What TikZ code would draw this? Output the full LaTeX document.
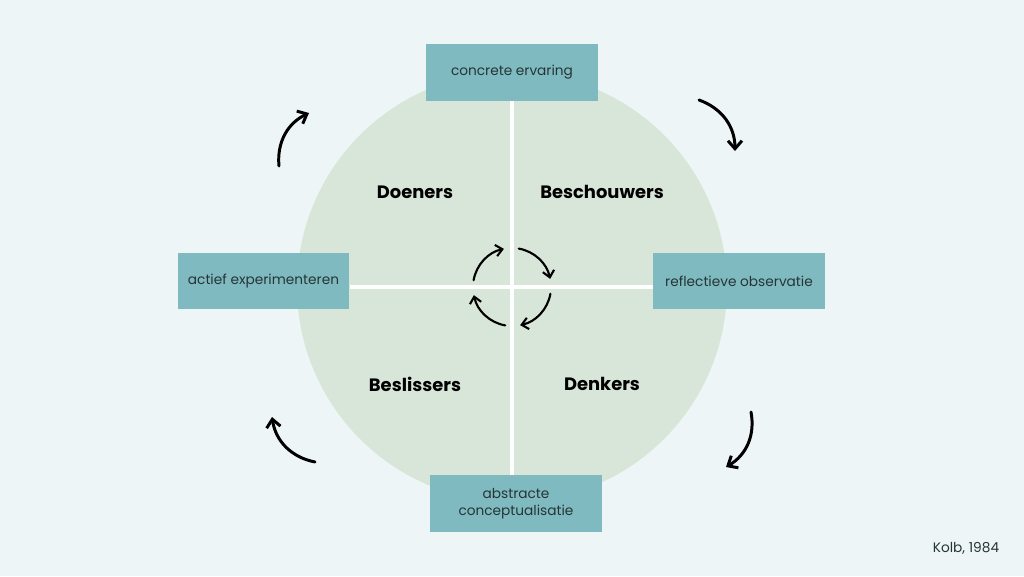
\documentclass[tikz,border=0pt]{standalone}
\usepackage{fontspec}
\setmainfont{Poppins}
\usetikzlibrary{arrows.meta}
\definecolor{bgblue}{HTML}{EEF5F7}
\definecolor{circgreen}{HTML}{D8E6D9}
\definecolor{boxteal}{HTML}{80BAC1}
\definecolor{boxtext}{HTML}{253535}

\begin{document}
\begin{tikzpicture}[x=0.02cm,y=0.02cm,line cap=round]

			\tikzstyle{every node}=[font=\fontsize{7.8}{9.4}\selectfont]

			\tikzstyle{stage}=[rectangle,fill=boxteal,text=boxtext,minimum width=3.44cm,minimum height=1.14cm,align=center,inner sep=1pt]
			\tikzstyle{type}=[font=\bfseries\fontsize{10.2}{12}\selectfont,text=black]
			\tikzstyle{cycle}=[-{Straight Barb[length=1.6mm,width=2.8mm]},line width=1.7pt,black]
			\tikzstyle{inner cycle}=[-{Straight Barb[length=1.3mm,width=2.3mm]},line width=1.2pt,black]

			\fill[bgblue] (0,0) rectangle (1024,576);
			\useasboundingbox (0,0) rectangle (1024,576);

			\coordinate (C) at (512,289);
			\fill[circgreen] (C) circle (4.3cm);

			\node[stage] (CE) at (512,503.5) {concrete ervaring};
			\node[stage] (RO) at (739,295) {reflectieve observatie};
			\node[stage] (AC) at (516,72.5) {abstracte\\conceptualisatie};
			\node[stage] (AE) at (263.5,295) {actief experimenteren};

			\draw[white,line width=2.8pt,line cap=butt] (CE.south -| C) -- (AC.north -| C);
			\draw[white,line width=2.8pt,line cap=butt] (AE.east |- C) -- (RO.west |- C);

			\node[type] (D1) at (415,384) {Doeners};
			\node[type] (B1) at (602,384) {Beschouwers};
			\node[type] (B2) at (415,192) {Beslissers};
			\node[type] (D2) at (602,192) {Denkers};

			% small cycle in the middle
			\foreach \s in {80,-10,-100,170}
				\draw[inner cycle] ([shift={(\s:0.78cm)}]C) arc[start angle=\s,end angle=\s-68,radius=0.78cm];

			% cycle arrows round the circle
			\coordinate (TL0) at (279,410);
			\coordinate (TL1) at (309,463);
			\coordinate (TR0) at (699,476);
			\coordinate (TR1) at (735,425);
			\coordinate (BR0) at (751,164);
			\coordinate (BR1) at (726,109);
			\coordinate (BL0) at (315,114);
			\coordinate (BL1) at (272,159);
			\draw[cycle] (TL0) to[bend left=35] (TL1);
			\draw[cycle] (TR0) to[bend left=35] (TR1);
			\draw[cycle] (BR0) to[bend left=35] (BR1);
			\draw[cycle] (BL0) to[bend left=35] (BL1);

			\node[text=boxtext] (K) at (966,28) {Kolb, 1984};

\end{tikzpicture}
\end{document}
